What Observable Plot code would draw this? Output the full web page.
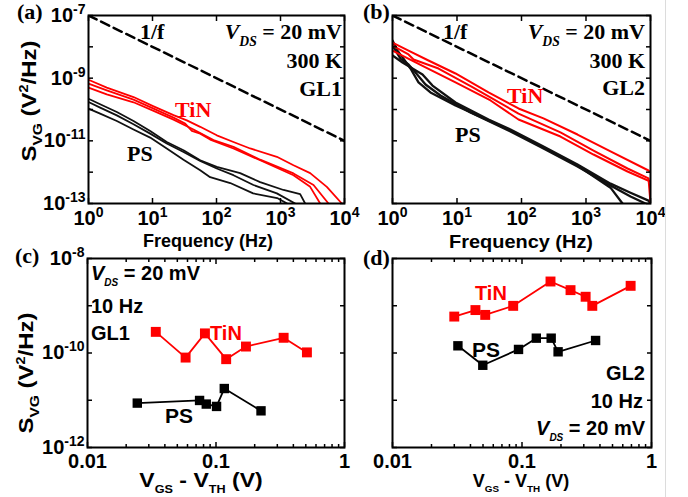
<!DOCTYPE html>
<html><head><meta charset="utf-8">
<script src="https://cdn.jsdelivr.net/npm/d3@7"></script>
<script src="https://cdn.jsdelivr.net/npm/@observablehq/plot@0.6"></script>
<style>
body{margin:0;background:#fff}
#wrap{position:relative;width:688px;height:497px;overflow:hidden;background:#fff}
.panel{position:absolute}
#overlay{position:absolute;left:0;top:0;pointer-events:none}
#overlay text, #overlay tspan{white-space:pre}
</style>
</head><body><div id="wrap"></div>
<script>
// ---------------- data ----------------
// (a) GL1 spectra: [frequency Hz, S_VG V^2/Hz]
const oneOverF = [[1, 1e-7], [1e4, 1e-11]];
const aTiN1 = [[1,8.9e-10],[1.93,5.0e-10],[5.05,2.5e-10],[10.4,1.26e-10],[21.3,6.6e-11],[34.4,4.5e-11],[55.6,2.8e-11],[101,1.5e-11],[184,9.2e-12],[336,5.7e-12],[877,3.1e-12],[1596,1.67e-12],[2908,9.3e-13],[5297,3.4e-13],[9085,1e-13]];
const aTiN2 = [[1,6.7e-10],[1.93,4.1e-10],[5.05,2.06e-10],[10.4,1.07e-10],[21.3,5.5e-11],[32.4,3.55e-11],[41.2,2.07e-11],[55.6,1.7e-11],[79.6,1.1e-11],[184,5.7e-12],[481,2.4e-12],[1596,8.0e-13],[2908,3.4e-13],[4169,1e-13]];
const aTiN3 = [[1,5.0e-10],[1.93,3.05e-10],[5.05,1.7e-10],[10.4,9.0e-11],[21.3,4.75e-11],[43.7,2.3e-11],[89.8,1.05e-11],[184,6.4e-12],[481,2.5e-12],[1596,9.1e-13],[3281,3.9e-13],[5623,1e-13]];
const aPS1 = [[1,2.2e-10],[1.52,1.47e-10],[2.77,8.3e-11],[5.05,4.3e-11],[9.2,2.07e-11],[16.7,9.2e-12],[30.5,5.0e-12],[55.6,2.4e-12],[101,1.48e-12],[234,9.3e-13],[481,4.8e-13],[1114,2.7e-13],[2028,2.0e-13],[2429,1e-13]];
const aPS2 = [[1,1.74e-10],[1.52,1.15e-10],[2.77,6.5e-11],[5.05,3.4e-11],[9.2,1.7e-11],[16.7,8.2e-12],[30.5,4.4e-12],[55.6,2.3e-12],[101,1.31e-12],[184,8.0e-13],[378,3.9e-13],[877,2.1e-13],[1694,1e-13]];
const aPS3 = [[1,1.07e-10],[1.52,7.4e-11],[2.77,4.3e-11],[5.05,2.3e-11],[9.2,1.27e-11],[16.7,5.7e-12],[30.5,2.5e-12],[55.6,1.16e-12],[79.6,6.9e-13],[164,4.5e-13],[374,2.1e-13],[887,1.49e-13],[1271,1e-13]];
// (b) GL2 spectra
const bTiN1 = [[1,1.37e-8],[1.77,7.6e-9],[3.61,3.66e-9],[9.48,1.41e-9],[30.8,3.5e-10],[89.8,1.08e-10],[219,5.2e-11],[738,1.59e-11],[2399,4.6e-12],[9310,1.13e-12],[10000,1.0e-12]];
const bTiN2 = [[1,1.10e-8],[1.77,5.7e-9],[2.12,3.94e-9],[5.17,2.03e-9],[16.8,5.4e-10],[89.8,7.4e-11],[402,1.85e-11],[1307,4.9e-12],[4400,1.31e-12],[9310,6.3e-13],[10000,1e-13]];
const bTiN3 = [[1,7.6e-9],[2.82,2.54e-9],[9.48,7.3e-10],[33.1,1.94e-10],[89.8,4.8e-11],[402,1.37e-11],[1307,3.66e-12],[4400,1.05e-12],[10000,5.0e-13]];
const bPS1 = [[1,1.59e-8],[1.195,7.6e-9],[1.48,4.2e-9],[1.90,2.03e-9],[2.53,7.3e-10],[3.88,3.5e-10],[9.48,1.34e-10],[30.8,4.45e-11],[67.5,2.14e-11],[219,6.1e-12],[738,1.63e-12],[2399,3.2e-13],[3681,1e-13]];
const bPS2 = [[1,1.10e-8],[1.33,4.2e-9],[1.77,2.73e-9],[2.27,1.52e-9],[3.25,6.3e-10],[5.55,2.8e-10],[16.2,8.0e-11],[67.5,1.99e-11],[219,5.7e-12],[738,1.52e-12],[2399,3.75e-13],[4898,1.67e-13],[8360,1e-13]];
const bPS3 = [[1,5.3e-9],[1.43,3.16e-9],[2.04,2.03e-9],[2.92,1.31e-9],[4.17,5.8e-10],[9.48,1.67e-10],[30.8,4.8e-11],[67.5,2.3e-11],[219,6.6e-12],[738,1.75e-12],[2399,4.3e-13],[4898,2.2e-13],[9310,1.24e-13],[10000,1.0e-13]];
// (c) GL1, 10 Hz: V_GS - V_TH (V) vs S_VG
const cTiN_vov = [0.034, 0.058, 0.082, 0.12, 0.171, 0.336, 0.51];
const cTiN_svg = [2.8e-10, 8.0e-11, 2.6e-10, 7.4e-11, 1.37e-10, 2.1e-10, 1.03e-10];
const cPS_vov = [0.0244, 0.0745, 0.084, 0.101, 0.116, 0.224];
const cPS_svg = [8.7e-12, 9.9e-12, 8.3e-12, 7.4e-12, 1.77e-11, 5.97e-12];
// (d) GL2, 10 Hz
const dTiN_vov = [0.030, 0.0437, 0.052, 0.0855, 0.166, 0.237, 0.31, 0.349, 0.69];
const dTiN_svg = [5.9e-10, 8.1e-10, 6.4e-10, 9.95e-10, 3.26e-9, 2.14e-9, 1.55e-9, 9.95e-10, 2.64e-9];
const dPS_vov = [0.032, 0.0498, 0.094, 0.129, 0.168, 0.19, 0.37];
const dPS_svg = [1.42e-10, 5.5e-11, 1.19e-10, 2.06e-10, 2.06e-10, 1.06e-10, 1.84e-10];
// ticks
const freqDecades = [1, 10, 100, 1000, 10000];
const svgDecadesAB = [1e-13, 1e-12, 1e-11, 1e-10, 1e-9, 1e-8, 1e-7];
const svgLabelsAB = [1e-13, 1e-11, 1e-9, 1e-7];
const vovMajor = [0.01, 0.1, 1];
const vovMinor = [0.02,0.03,0.04,0.05,0.06,0.07,0.08,0.09,0.2,0.3,0.4,0.5,0.6,0.7,0.8,0.9];
const svgDecadesCD = [1e-12, 1e-11, 1e-10, 1e-9, 1e-8];
const svgLabelsCD = [1e-12, 1e-10, 1e-8];

const RED = "#ff0000";
const SANS = "'Liberation Sans', Arial, sans-serif";
const SERIF = "'Liberation Serif', 'Times New Roman', serif";
const expFmt = d => "10^" + Math.round(Math.log10(d));
const zip = (xs, ys) => xs.map((x, i) => [x, ys[i]]);

const wrap = document.getElementById("wrap");

function frameAxes(xMajor, xMinor, yMajor) {
  const o = {tickFormat: () => "", label: null, strokeWidth: 1.5};
  const m = [
    Plot.axisX({...o, anchor: "bottom", ticks: xMajor, tickSize: -5}),
    Plot.axisX({...o, anchor: "top", ticks: xMajor, tickSize: -5}),
    Plot.axisY({...o, anchor: "left", ticks: yMajor, tickSize: -5}),
    Plot.axisY({...o, anchor: "right", ticks: yMajor, tickSize: -5})
  ];
  if (xMinor) {
    m.push(Plot.axisX({...o, anchor: "bottom", ticks: xMinor, tickSize: -3}));
    m.push(Plot.axisX({...o, anchor: "top", ticks: xMinor, tickSize: -3}));
  }
  return m;
}

function supify(svg) {
  svg.querySelectorAll("text").forEach(t => {
    if (t.textContent === "") { t.remove(); return; }
    const m = t.textContent.match(/^10\^(-?\d+)$/);
    if (m) {
      t.textContent = "10";
      const ts = document.createElementNS("http://www.w3.org/2000/svg", "tspan");
      ts.setAttribute("dy", "-8");
      ts.setAttribute("font-size", "14");
      ts.textContent = m[1];
      t.appendChild(ts);
    }
  });
}

function place(svg, left, top) {
  const div = document.createElement("div");
  div.className = "panel";
  div.style.left = left + "px";
  div.style.top = top + "px";
  div.appendChild(svg);
  wrap.appendChild(div);
  supify(svg);
}

const baseStyle = {fontFamily: SANS, fontWeight: "bold", fontSize: "20px", overflow: "visible", background: "transparent", color: "black"};
const lineOpt = (stroke, w) => ({x: d => d[0], y: d => d[1], stroke, strokeWidth: w, clip: true, curve: "linear"});

// ---- panel (a) ----
place(Plot.plot({
  width: 350, height: 250, marginLeft: 88, marginRight: 6, marginTop: 15, marginBottom: 47,
  style: baseStyle,
  x: {type: "log", domain: [1, 1e4]},
  y: {type: "log", domain: [1e-13, 1e-7]},
  marks: [
    Plot.line(oneOverF, {...lineOpt("black", 2.5), strokeDasharray: "9,5"}),
    ...[aPS1, aPS2, aPS3].map(c => Plot.line(c, lineOpt("#111", 1.8))),
    ...[aTiN1, aTiN2, aTiN3].map(c => Plot.line(c, lineOpt(RED, 1.8))),
    Plot.frame({stroke: "black", strokeWidth: 2}),
    ...frameAxes(freqDecades, null, svgDecadesAB),
    Plot.axisY({anchor: "left", ticks: svgLabelsAB, tickSize: 0, tickPadding: 3, tickFormat: expFmt, label: null}),
    Plot.axisX({anchor: "bottom", ticks: freqDecades, tickSize: 0, tickPadding: 7, tickFormat: expFmt, label: null})
  ]
}), 0, 0);

// ---- panel (b) ----
place(Plot.plot({
  width: 344, height: 250, marginLeft: 48, marginRight: 38, marginTop: 15, marginBottom: 47,
  style: baseStyle,
  x: {type: "log", domain: [1, 1e4]},
  y: {type: "log", domain: [1e-13, 1e-7]},
  marks: [
    Plot.line(oneOverF, {...lineOpt("black", 2.5), strokeDasharray: "9,5"}),
    ...[bPS1, bPS2, bPS3].map(c => Plot.line(c, lineOpt("#111", 2.3))),
    ...[bTiN1, bTiN2, bTiN3].map(c => Plot.line(c, lineOpt(RED, 2))),
    Plot.frame({stroke: "black", strokeWidth: 2}),
    ...frameAxes(freqDecades, null, svgDecadesAB),
    Plot.axisX({anchor: "bottom", ticks: freqDecades, tickSize: 0, tickPadding: 7, tickFormat: expFmt, label: null})
  ]
}), 344, 0);

// ---- panel (c) ----
place(Plot.plot({
  width: 350, height: 247, marginLeft: 87, marginRight: 6, marginTop: 8, marginBottom: 50,
  style: baseStyle,
  x: {type: "log", domain: [0.01, 1]},
  y: {type: "log", domain: [1e-12, 1e-8]},
  marks: [
    Plot.line(zip(cPS_vov, cPS_svg), lineOpt("black", 1.8)),
    Plot.dot(zip(cPS_vov, cPS_svg), {x: d => d[0], y: d => d[1], symbol: "square", fill: "black", r: 5.3}),
    Plot.line(zip(cTiN_vov, cTiN_svg), lineOpt(RED, 1.8)),
    Plot.dot(zip(cTiN_vov, cTiN_svg), {x: d => d[0], y: d => d[1], symbol: "square", fill: RED, r: 5.6}),
    Plot.frame({stroke: "black", strokeWidth: 2}),
    ...frameAxes(vovMajor, vovMinor, svgDecadesCD),
    Plot.axisY({anchor: "left", ticks: svgLabelsCD, tickSize: 0, tickPadding: 3, tickFormat: expFmt, label: null}),
    Plot.axisX({anchor: "bottom", ticks: vovMajor, tickSize: 0, tickPadding: 6, tickFormat: d => String(d), label: null})
  ]
}), 0, 250);

// ---- panel (d) ----
place(Plot.plot({
  width: 344, height: 247, marginLeft: 48, marginRight: 37, marginTop: 8, marginBottom: 50,
  style: baseStyle,
  x: {type: "log", domain: [0.01, 1]},
  y: {type: "log", domain: [1e-12, 1e-8]},
  marks: [
    Plot.line(zip(dPS_vov, dPS_svg), lineOpt("black", 1.8)),
    Plot.dot(zip(dPS_vov, dPS_svg), {x: d => d[0], y: d => d[1], symbol: "square", fill: "black", r: 5.3}),
    Plot.line(zip(dTiN_vov, dTiN_svg), lineOpt(RED, 1.8)),
    Plot.dot(zip(dTiN_vov, dTiN_svg), {x: d => d[0], y: d => d[1], symbol: "square", fill: RED, r: 5.6}),
    Plot.frame({stroke: "black", strokeWidth: 2}),
    ...frameAxes(vovMajor, vovMinor, svgDecadesCD),
    Plot.axisX({anchor: "bottom", ticks: vovMajor, tickSize: 0, tickPadding: 6, tickFormat: d => String(d), label: null})
  ]
}), 344, 250);

// separator line at the right
const sep = document.createElement("div");
sep.style.cssText = "position:absolute;left:665px;top:0;width:1px;height:497px;background:#dcdcdc";
wrap.appendChild(sep);

// ---------------- text overlay ----------------
const ov = d3.select(wrap).append("svg").attr("id", "overlay").attr("width", 688).attr("height", 497);
function addText({x, y, segs, size, family = SANS, anchor = "start", fill = "black", rotate = 0, sx = 1}) {
  const t = ov.append("text").attr("font-family", family).attr("font-size", size)
    .attr("font-weight", "bold").attr("fill", fill).attr("text-anchor", anchor);
  t.attr("transform", `translate(${x},${y}) rotate(${rotate}) scale(${sx},1)`);
  let cur = 0;
  for (const s of segs) {
    const seg = typeof s === "string" ? {t: s} : s;
    const shift = seg.sub ? size * 0.3 : seg.sup ? -size * 0.42 : 0;
    const ts = t.append("tspan").text(seg.t);
    if (shift !== cur) ts.attr("dy", shift - cur);
    if (seg.sub || seg.sup) ts.attr("font-size", size * (seg.scale || 0.62));
    if (seg.italic) ts.attr("font-style", "italic");
    cur = shift;
  }
}
// panel letters
addText({x: 17, y: 19, segs: ["(a)"], size: 22, family: SERIF});
addText({x: 363, y: 19, segs: ["(b)"], size: 22, family: SERIF});
addText({x: 15, y: 263, segs: ["(c)"], size: 22, family: SERIF});
addText({x: 363, y: 265, segs: ["(d)"], size: 22, family: SERIF});
// (a) annotations
addText({x: 140, y: 39, segs: ["1/f"], size: 22, family: SERIF});
addText({x: 342, y: 39, segs: [{t: "V", italic: true}, {t: "DS", sub: true, italic: true}, " = 20 mV"], size: 22, family: SERIF, anchor: "end"});
addText({x: 342, y: 68, segs: ["300 K"], size: 22, family: SERIF, anchor: "end"});
addText({x: 342, y: 96, segs: ["GL1"], size: 22, family: SERIF, anchor: "end"});
addText({x: 175, y: 117, segs: ["TiN"], size: 22, family: SERIF, fill: RED});
addText({x: 127, y: 161, segs: ["PS"], size: 22, family: SERIF});
// (b) annotations
addText({x: 443, y: 39, segs: ["1/f"], size: 22, family: SERIF});
addText({x: 645, y: 39, segs: [{t: "V", italic: true}, {t: "DS", sub: true, italic: true}, " = 20 mV"], size: 22, family: SERIF, anchor: "end"});
addText({x: 645, y: 68, segs: ["300 K"], size: 22, family: SERIF, anchor: "end"});
addText({x: 645, y: 95, segs: ["GL2"], size: 22, family: SERIF, anchor: "end"});
addText({x: 507, y: 103, segs: ["TiN"], size: 22, family: SERIF, fill: RED});
addText({x: 455, y: 142, segs: ["PS"], size: 22, family: SERIF});
// (c) annotations
addText({x: 91, y: 280, segs: [{t: "V", italic: true}, {t: "DS", sub: true, italic: true, scale: 0.5}, " = 20 mV"], size: 20});
addText({x: 91, y: 313, segs: ["10 Hz"], size: 20});
addText({x: 91, y: 340, segs: ["GL1"], size: 20});
addText({x: 210, y: 340, segs: ["TiN"], size: 20, fill: RED});
addText({x: 165, y: 423, segs: ["PS"], size: 21});
// (d) annotations
addText({x: 475, y: 300, segs: ["TiN"], size: 20, fill: RED});
addText({x: 472, y: 357, segs: ["PS"], size: 21});
addText({x: 645, y: 380, segs: ["GL2"], size: 20, anchor: "end"});
addText({x: 643, y: 408, segs: ["10 Hz"], size: 20, anchor: "end"});
addText({x: 645, y: 435, segs: [{t: "V", italic: true}, {t: "DS", sub: true, italic: true, scale: 0.5}, " = 20 mV"], size: 20, anchor: "end"});
// axis titles
const svgLabel = ["S", {t: "VG", sub: true, scale: 0.65}, " (V", {t: "2", sup: true, scale: 0.6}, "/Hz)"];
addText({x: 36, y: 101, segs: svgLabel, size: 20, rotate: -90, anchor: "middle", sx: 1.2});
addText({x: 33, y: 373, segs: svgLabel, size: 20, rotate: -90, anchor: "middle", sx: 1.2});
addText({x: 208, y: 247, segs: ["Frequency (Hz)"], size: 18, anchor: "middle"});
addText({x: 521, y: 248, segs: ["Frequency (Hz)"], size: 19, anchor: "middle", sx: 1.05});
const vovLabel = ["V", {t: "GS", sub: true, scale: 0.55}, " - V", {t: "TH", sub: true, scale: 0.55}, " (V)"];
addText({x: 201, y: 487, segs: vovLabel, size: 20, anchor: "middle", sx: 1.15});
addText({x: 521, y: 487, segs: vovLabel, size: 18, anchor: "middle"});
</script></body></html>
